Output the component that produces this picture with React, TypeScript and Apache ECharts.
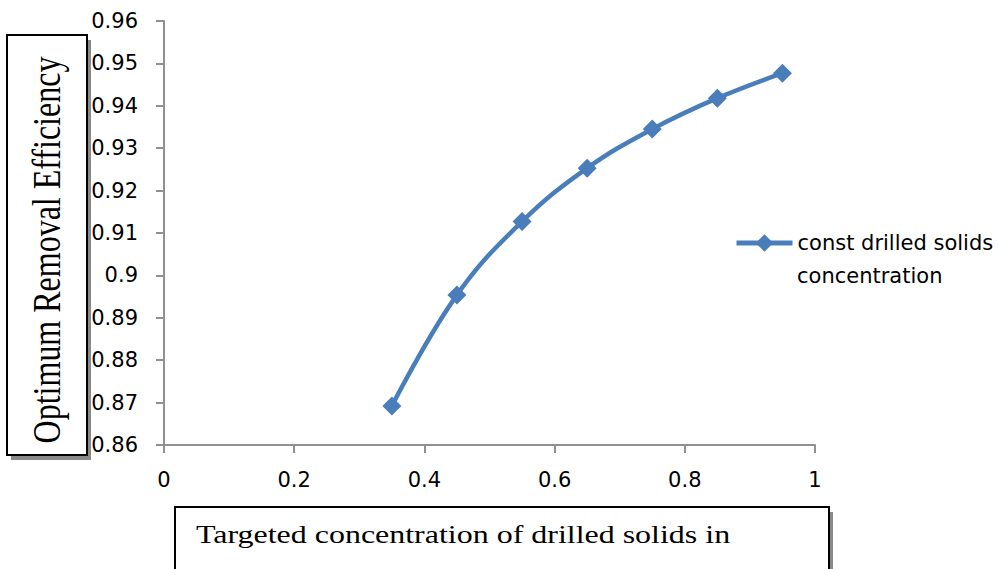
import React, { useEffect, useRef } from "react";
import * as echarts from "echarts";

const xValues = [0.35, 0.45, 0.55, 0.65, 0.75, 0.85, 0.95];
const yValues = [0.8692, 0.8954, 0.9127, 0.9253, 0.9345, 0.9418, 0.9477];
const seriesName = "const drilled solids concentration";
const legendLines = ["const drilled solids", "concentration"];
const yTitle = "Optimum Removal Efficiency";
const xTitle = "Targeted concentration of drilled solids in";

const LINE_COLOR = "#4A7EBB";
const AXIS_COLOR = "#909090";
const TICK_FONT = "DejaVu Sans";
const SERIF = "Liberation Serif";

export default function App() {
  const ref = useRef<HTMLDivElement>(null);

  useEffect(() => {
    if (!ref.current) return;
    const chart = echarts.init(ref.current, null, { renderer: "svg" });
    const data = xValues.map((x, i) => [x, yValues[i]]);

    const boxShadow = "#8a8a8a";
    chart.setOption({
      animation: false,
      backgroundColor: "#ffffff",
      grid: { left: 164, right: 184, top: 21, bottom: 124, containLabel: false },
      xAxis: {
        type: "value",
        min: 0,
        max: 1,
        interval: 0.2,
        splitLine: { show: false },
        axisLine: { show: true, lineStyle: { color: AXIS_COLOR, width: 2 } },
        axisTick: { show: true, inside: false, length: 8, lineStyle: { color: AXIS_COLOR, width: 2 } },
        axisLabel: { color: "#000", fontFamily: TICK_FONT, fontSize: 21, margin: 24 },
      },
      yAxis: {
        type: "value",
        min: 0.86,
        max: 0.96,
        interval: 0.01,
        splitLine: { show: false },
        axisLine: { show: true, lineStyle: { color: AXIS_COLOR, width: 2 } },
        axisTick: { show: true, inside: false, length: 8, lineStyle: { color: AXIS_COLOR, width: 2 } },
        axisLabel: { color: "#000", fontFamily: TICK_FONT, fontSize: 21, margin: 26 },
      },
      legend: {
        show: true,
        left: 734,
        top: 232,
        padding: 0,
        itemWidth: 56,
        itemHeight: 22,
        itemGap: 0,
        formatter: () => legendLines[0],
        lineStyle: { color: LINE_COLOR, width: 5 },
        itemStyle: { color: LINE_COLOR },
        textStyle: {
          color: "#000",
          fontFamily: TICK_FONT,
          fontSize: 21,
          lineHeight: 22,
        },
        data: [seriesName],
      },
      series: [
        {
          name: seriesName,
          type: "line",
          data,
          smooth: 0.4,
          symbol: "diamond",
          symbolSize: 19,
          itemStyle: { color: LINE_COLOR },
          lineStyle: { color: LINE_COLOR, width: 4.5 },
        },
      ],
      graphic: [
        { type: "rect", shape: { x: 11, y: 40, width: 80, height: 420 }, style: { fill: boxShadow } },
        { type: "rect", shape: { x: 7, y: 35, width: 80, height: 420 }, style: { fill: "#fff", stroke: "#000", lineWidth: 2 } },
        {
          type: "text",
          x: 47,
          y: 250,
          rotation: Math.PI / 2,
          scaleY: 1.23,
          style: {
            text: yTitle,
            fontFamily: SERIF,
            fontSize: 32,
            fill: "#000",
            align: "center",
            verticalAlign: "middle",
          },
        },
        { type: "rect", shape: { x: 179, y: 512, width: 654, height: 80 }, style: { fill: boxShadow } },
        { type: "rect", shape: { x: 175, y: 507, width: 654, height: 80 }, style: { fill: "#fff", stroke: "#000", lineWidth: 2 } },
        {
          type: "text",
          x: 196,
          y: 534,
          scaleX: 1.23,
          style: {
            text: xTitle,
            fontFamily: SERIF,
            fontSize: 26,
            fill: "#000",
            align: "left",
            verticalAlign: "middle",
          },
        },
        {
          type: "text",
          x: 797,
          y: 276,
          style: {
            text: legendLines[1],
            fontFamily: TICK_FONT,
            fontSize: 21,
            fill: "#000",
            align: "left",
            verticalAlign: "middle",
          },
        },
      ],
    });
    return () => chart.dispose();
  }, []);

  return (
    <div
      ref={ref}
      style={{ position: "fixed", left: 0, top: 0, width: 999, height: 569, background: "#fff" }}
    />
  );
}
